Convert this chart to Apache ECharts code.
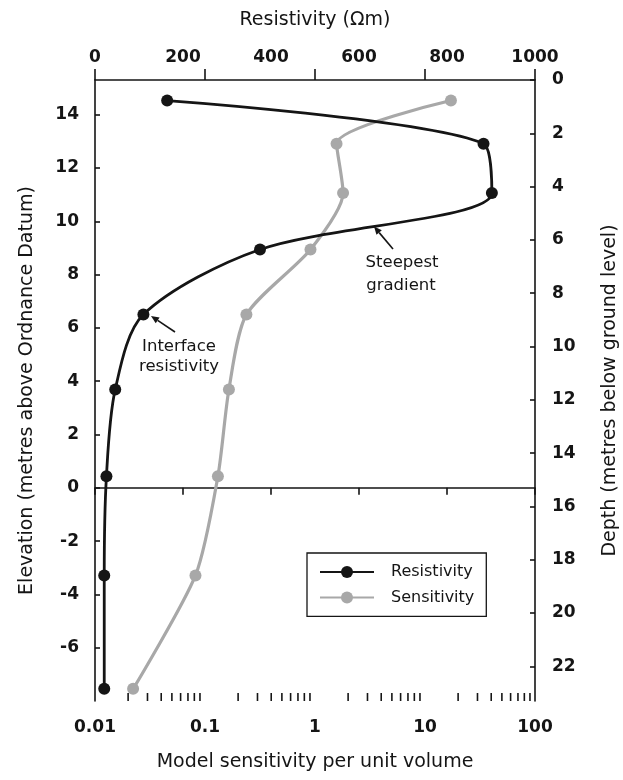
<!DOCTYPE html>
<html>
<head>
<meta charset="utf-8">
<script src="https://cdn.jsdelivr.net/npm/echarts@6/dist/echarts.min.js"></script>
<style>
html,body{margin:0;padding:0;background:#fff;}
#chart{width:623px;height:780px;}
</style>
</head>
<body>
<div id="chart"></div>
<script>
// ---- data ----
const elevation   = [14.53, 12.91, 11.06, 8.94, 6.50, 3.69, 0.43, -3.29, -7.54];
const resistivity = [164, 883, 902, 375, 110, 46, 26, 21, 21];
const sensitivity = [17.2, 1.57, 1.80, 0.91, 0.238, 0.165, 0.131, 0.0819, 0.0222];
const seriesNames = ['Resistivity', 'Sensitivity'];
const elevRange = [-8, 15.3];          // left axis (m above OD); ground level at top
const resRange = [0, 1000];            // top axis (ohm m)
const sensRange = [0.01, 100];         // bottom log axis
const depthMax = elevRange[1] - elevRange[0];

// minor ticks for the log axis (2..9 within each decade)
const minorTickValues = [];
for (let d = sensRange[0]; d < sensRange[1] * 0.999; d *= 10) {
  for (let k = 2; k <= 9; k++) minorTickValues.push(+(k * d).toPrecision(6));
}

const FONT = 'DejaVu Sans';
const INK = '#151515';
const GREY = '#a8a8a8';
const axisLineStyle = { color: INK, width: 1.6 };

const chart = echarts.init(document.getElementById('chart'), null, { renderer: 'canvas' });

function arrow(x1, y1, x2, y2) {
  const dx = x2 - x1, dy = y2 - y1, L = Math.hypot(dx, dy);
  const ux = dx / L, uy = dy / L, px = -uy, py = ux;
  const hl = 8, hw = 3.5;
  const bx = x2 - ux * hl, by = y2 - uy * hl;
  return [
    { type: 'line', shape: { x1: x1, y1: y1, x2: bx, y2: by }, style: { stroke: INK, lineWidth: 1.6 }, silent: true },
    { type: 'polygon', shape: { points: [[x2, y2], [bx + px * hw, by + py * hw], [bx - px * hw, by - py * hw]] }, style: { fill: INK }, silent: true }
  ];
}

const labelStyle = { fontFamily: FONT, fontSize: 17, fontWeight: 'bold', color: INK };
const nameStyle = { fontFamily: FONT, fontSize: 19, color: INK };
const plain = v => String(parseFloat((+v).toPrecision(6)));

const option = {
  animation: false,
  backgroundColor: '#fff',
  grid: { left: 95, right: 88, top: 80, bottom: 79, containLabel: false, outerBoundsMode: 'none' },
  legend: {
    data: seriesNames,
    orient: 'vertical',
    left: 307, top: 553,
    itemWidth: 54, itemHeight: 15, itemGap: 9.4,
    padding: [11, 12, 11, 12],
    borderColor: INK, borderWidth: 1.3,
    textStyle: { fontFamily: FONT, fontSize: 16, color: INK, lineHeight: 15, padding: [0, 0, 0, 12] }
  },
  xAxis: [
    {
      type: 'value', position: 'top', min: resRange[0], max: resRange[1], interval: 200,
      name: 'Resistivity (Ωm)', nameLocation: 'middle', nameGap: 50, nameTextStyle: nameStyle,
      axisLine: { show: true, lineStyle: axisLineStyle },
      axisTick: { show: true, inside: true, length: 7, lineStyle: axisLineStyle },
      axisLabel: Object.assign({ margin: 14, formatter: plain }, labelStyle),
      splitLine: { show: false }
    },
    {
      type: 'log', position: 'bottom', logBase: 10, min: sensRange[0], max: sensRange[1], splitNumber: 4,
      name: 'Model sensitivity per unit volume', nameLocation: 'middle', nameGap: 52, nameTextStyle: nameStyle,
      axisLine: { show: true, lineStyle: axisLineStyle },
      axisTick: { show: true, inside: true, length: 11, lineStyle: axisLineStyle },
      axisLabel: Object.assign({ margin: 18, formatter: plain }, labelStyle),
      splitLine: { show: false }, minorTick: { show: false }
    }
  ],
  yAxis: [
    {
      type: 'value', position: 'left', min: elevRange[0], max: elevRange[1], interval: 2,
      name: 'Elevation (metres above Ordnance Datum)', nameLocation: 'middle', nameGap: 58, nameRotate: 90,
      nameTextStyle: nameStyle,
      axisLine: { show: true, lineStyle: axisLineStyle },
      axisTick: { show: true, inside: true, length: 5, lineStyle: axisLineStyle },
      axisLabel: Object.assign({ margin: 16, showMinLabel: false, showMaxLabel: false }, labelStyle),
      splitLine: { show: false }
    },
    {
      type: 'value', position: 'right', min: 0, max: depthMax, interval: 2, inverse: true,
      name: 'Depth (metres below ground level)', nameLocation: 'middle', nameGap: 66, nameRotate: 90,
      nameTextStyle: nameStyle,
      axisLine: { show: true, lineStyle: axisLineStyle },
      axisTick: { show: true, inside: true, length: 5, lineStyle: axisLineStyle },
      axisLabel: Object.assign({ margin: 17, showMinLabel: true, showMaxLabel: false }, labelStyle),
      splitLine: { show: false }
    }
  ],
  series: [
    {
      name: 'Sensitivity', type: 'line', xAxisIndex: 1, yAxisIndex: 0,
      data: sensitivity.map((v, i) => [v, elevation[i]]),
      smooth: 0.25, symbol: 'circle', symbolSize: 12,
      lineStyle: { color: GREY, width: 3.2 }, itemStyle: { color: GREY },
      z: 2
    },
    {
      name: 'Resistivity', type: 'line', xAxisIndex: 0, yAxisIndex: 0,
      data: resistivity.map((v, i) => [v, elevation[i]]),
      smooth: 0.3, symbol: 'circle', symbolSize: 12,
      lineStyle: { color: INK, width: 2.8 }, itemStyle: { color: INK },
      z: 3
    },
    {
      name: 'minorTicks', type: 'custom', xAxisIndex: 1, yAxisIndex: 0, silent: true,
      data: minorTickValues.map(v => [v, elevRange[0]]),
      renderItem: function (params, api) {
        const p = api.coord([api.value(0), api.value(1)]);
        return { type: 'line', shape: { x1: p[0], y1: p[1], x2: p[0], y2: p[1] - 8 }, style: { stroke: INK, lineWidth: 1.6 } };
      },
      z: 4
    }
  ]
};

const annoText = (t, x, y) => ({ type: 'text', x: x, y: y, silent: true,
  style: { text: t, fontFamily: FONT, fontSize: 16.5, fill: INK, align: 'center', verticalAlign: 'middle' } });

option.graphic = [].concat(
  arrow(393, 249, 374, 226.5),
  arrow(175, 332, 151, 316),
  [
    annoText('Steepest', 402, 263),
    annoText('gradient', 401, 286),
    annoText('Interface', 179, 347),
    annoText('resistivity', 179, 367)
  ]
);

chart.setOption(option);
</script>
</body>
</html>
